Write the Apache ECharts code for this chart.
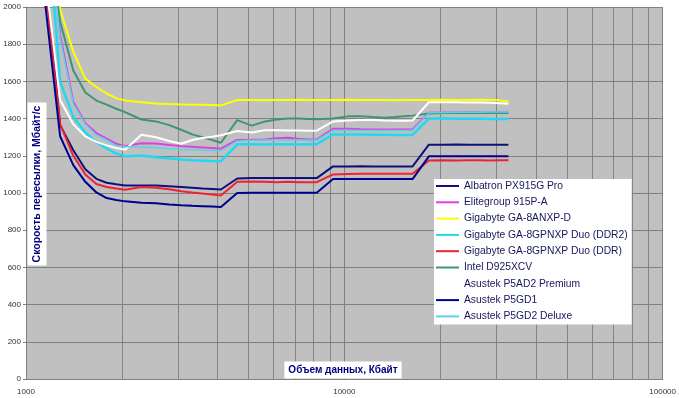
<!DOCTYPE html>
<html>
<head>
<meta charset="utf-8">
<script src="https://cdn.jsdelivr.net/npm/echarts@6/dist/echarts.min.js"></script>
<style>
  html, body { margin: 0; padding: 0; background: #fff; }
  #chart { width: 679px; height: 398px; }
</style>
</head>
<body>
<div id="chart"></div>
<script>
// block sizes, KB (8 steps per octave)
const sizesKb = [1024, 1152, 1280, 1408, 1536, 1664, 1792, 1920, 2048,
  2304, 2560, 2816, 3072, 3328, 3584, 3840, 4096,
  4608, 5120, 5632, 6144, 6656, 7168, 7680, 8192,
  9216, 10240, 11264, 12288, 13312, 14336, 15360, 16384,
  18432, 20480, 22528, 24576, 26624, 28672, 30720, 32768];

const albatron = [3000, 2150, 1365, 1230, 1128, 1076, 1055, 1047, 1040,
  1040, 1040, 1036, 1032, 1028, 1024, 1022, 1019,
  1078, 1080, 1080, 1080, 1081, 1080, 1080, 1080,
  1143, 1143, 1144, 1143, 1143, 1143, 1143, 1143,
  1260, 1260, 1261, 1260, 1260, 1260, 1260, 1260];
const elitegroup = [3300, 2650, 1850, 1490, 1375, 1322, 1292, 1265, 1252,
  1268, 1266, 1258, 1252, 1248, 1245, 1242, 1238,
  1285, 1286, 1288, 1295, 1297, 1292, 1288, 1288,
  1345, 1346, 1343, 1342, 1342, 1342, 1342, 1342,
  1432, 1433, 1433, 1433, 1433, 1433, 1433, 1433];
const gaAnxp = [3500, 2700, 1985, 1760, 1615, 1570, 1535, 1510, 1498,
  1488, 1481, 1478, 1476, 1474, 1474, 1473, 1471,
  1500, 1500, 1499, 1500, 1500, 1501, 1500, 1500,
  1500, 1501, 1500, 1500, 1500, 1499, 1500, 1500,
  1500, 1501, 1500, 1500, 1501, 1500, 1498, 1492];
const gaDdr2 = [3200, 2600, 1600, 1408, 1325, 1273, 1240, 1212, 1198,
  1202, 1192, 1185, 1180, 1176, 1174, 1172, 1171,
  1262, 1262, 1261, 1262, 1262, 1261, 1262, 1262,
  1315, 1315, 1314, 1313, 1313, 1312, 1312, 1312,
  1400, 1400, 1399, 1399, 1399, 1398, 1398, 1398];
const gaDdr = [2900, 2100, 1370, 1200, 1100, 1048, 1032, 1024, 1018,
  1032, 1028, 1020, 1010, 1003, 997, 992, 987,
  1060, 1062, 1060, 1058, 1060, 1058, 1058, 1058,
  1100, 1102, 1103, 1104, 1104, 1104, 1104, 1104,
  1175, 1176, 1175, 1176, 1176, 1175, 1176, 1176];
const intel = [3400, 2500, 1920, 1659, 1540, 1497, 1475, 1453, 1435,
  1395, 1385, 1365, 1340, 1315, 1300, 1285, 1270,
  1392, 1362, 1385, 1395, 1400, 1400, 1398, 1396,
  1400, 1412, 1412, 1408, 1405, 1408, 1412, 1416,
  1428, 1430, 1430, 1431, 1430, 1430, 1431, 1430];
const p5ad2 = [3000, 2150, 1500, 1370, 1305, 1275, 1256, 1242, 1232,
  1313, 1300, 1280, 1265, 1285, 1296, 1302, 1310,
  1333, 1325, 1338, 1337, 1336, 1336, 1335, 1335,
  1385, 1390, 1392, 1394, 1390, 1388, 1388, 1390,
  1488, 1488, 1488, 1487, 1486, 1485, 1483, 1480];
const p5gd1 = [2900, 2000, 1305, 1150, 1060, 1003, 973, 962, 955,
  948, 945, 938, 934, 931, 929, 927, 925,
  1000, 1001, 1001, 1001, 1001, 1001, 1001, 1001,
  1075, 1075, 1075, 1075, 1075, 1075, 1075, 1075,
  1197, 1197, 1197, 1197, 1197, 1197, 1197, 1197];
const p5gd2 = [3300, 2600, 1830, 1480, 1370, 1312, 1285, 1255, 1250,
  1247, 1243, 1238, 1234, 1232, 1230, 1229, 1228,
  1280, 1284, 1285, 1285, 1284, 1285, 1285, 1285,
  1336, 1337, 1336, 1336, 1336, 1336, 1336, 1336,
  1432, 1433, 1434, 1434, 1434, 1435, 1435, 1435];

const boardNames = ["Albatron PX915G Pro", "Elitegroup 915P-A", "Gigabyte GA-8ANXP-D",
  "Gigabyte GA-8GPNXP Duo (DDR2)", "Gigabyte GA-8GPNXP Duo (DDR)", "Intel D925XCV",
  "Asustek P5AD2 Premium", "Asustek P5GD1", "Asustek P5GD2 Deluxe"];
const boardValues = [albatron, elitegroup, gaAnxp, gaDdr2, gaDdr, intel, p5ad2, p5gd1, p5gd2];
const boardColors = ["#10107a", "#e040e0", "#ffff00", "#22d8f0", "#ee2233",
  "#3f9474", "#ffffff", "#000090", "#55d4ea"];
const boardWidths = [2, 2, 2, 2.5, 2, 2, 2, 2, 1.5];

const yTicks = [0, 200, 400, 600, 800, 1000, 1200, 1400, 1600, 1800, 2000];
const minorGridKb = [2000, 3000, 4000, 5000, 6000, 7000, 8000, 9000,
  20000, 30000, 40000, 50000, 60000, 70000, 80000, 90000];

const chart = echarts.init(document.getElementById("chart"), null, { renderer: "canvas" });

const series = boardNames.map((name, i) => ({
  name,
  type: "line",
  data: sizesKb.map((x, j) => [x, boardValues[i][j]]),
  symbol: "none",
  clip: true,
  lineStyle: { color: boardColors[i], width: boardWidths[i] },
  itemStyle: { color: boardColors[i] },
  z: 3,
}));

// minor log grid lines
series.push({
  name: "grid",
  type: "line",
  data: [],
  silent: true,
  markLine: {
    z: 1,
    silent: true,
    symbol: "none",
    label: { show: false },
    animation: false,
    lineStyle: { color: "#848484", width: 1, type: "solid" },
    data: minorGridKb.map((v) => ({ xAxis: v })),
  },
});

chart.setOption({
  animation: false,
  backgroundColor: "#ffffff",
  grid: {
    left: 26, right: 15, top: 7, bottom: 19,
    show: true, backgroundColor: "#c0c0c0", borderWidth: 0,
  },
  legend: {
    data: boardNames.map((name) => ({ name, icon: "rect" })),
    orient: "vertical",
    left: 434,
    top: 179,
    padding: [1, 4, 2, 2],
    backgroundColor: "#ffffff",
    itemWidth: 23,
    itemHeight: 2,
    itemGap: 4.3,
    selectedMode: false,
    textStyle: { fontFamily: "Liberation Sans, Arial", fontSize: 10.3, lineHeight: 12, color: "#16165e" },
  },
  xAxis: {
    type: "log",
    logBase: 10,
    min: 1000,
    max: 100000,
    axisLine: { lineStyle: { color: "#808080" } },
    axisTick: { show: false },
    splitLine: { show: true, lineStyle: { color: "#808080" } },
    axisLabel: {
      fontFamily: "Liberation Sans, Arial", fontSize: 8, color: "#333", margin: 9,
      formatter: (v) => String(Math.round(v)),
    },
  },
  yAxis: {
    type: "value",
    min: yTicks[0],
    max: yTicks[yTicks.length - 1],
    interval: 200,
    axisLine: { show: true, lineStyle: { color: "#808080" } },
    axisTick: { show: true, length: 3, lineStyle: { color: "#808080" } },
    splitLine: { lineStyle: { color: "#808080" } },
    axisLabel: {
      fontFamily: "Liberation Sans, Arial", fontSize: 8, color: "#333", margin: 5,
      formatter: (v) => String(v),
    },
  },
  graphic: [
    {
      type: "text",
      x: 37,
      y: 184,
      rotation: Math.PI / 2,
      z: 10,
      style: {
        text: "Скорость пересылки, Мбайт/с",
        font: "bold 10.5px 'Liberation Sans', Arial",
        fill: "#000080",
        backgroundColor: "#ffffff",
        padding: [4, 3, 4, 3],
        align: "center",
        verticalAlign: "middle",
      },
    },
    {
      type: "text",
      x: 343,
      y: 370,
      z: 10,
      style: {
        text: "Объем данных, Кбайт",
        font: "bold 10px 'Liberation Sans', Arial",
        fill: "#000080",
        backgroundColor: "#ffffff",
        padding: [4, 4, 3, 4],
        align: "center",
        verticalAlign: "middle",
      },
    },
  ],
  series,
});
</script>
</body>
</html>
